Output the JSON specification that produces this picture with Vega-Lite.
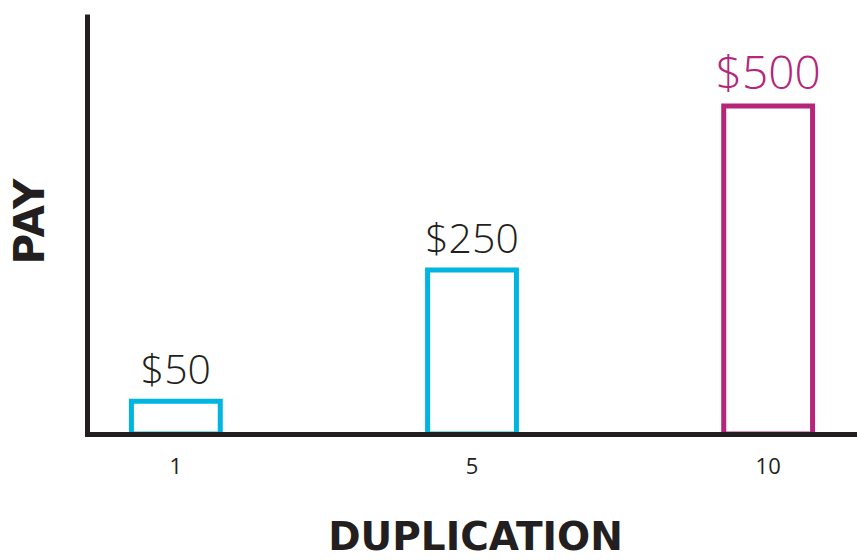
{
  "$schema": "https://vega.github.io/schema/vega-lite/v6.json",
  "width": 770,
  "height": 420,
  "autosize": {"type": "none"},
  "padding": {"left": 87, "top": 14, "right": 0, "bottom": 126},
  "background": "white",
  "config": {"view": {"stroke": null}},
  "data": {
    "values": [
      {"duplication": "1", "pay": 50, "label": "$50"},
      {"duplication": "5", "pay": 250, "label": "$250"},
      {"duplication": "10", "pay": 500, "label": "$500"}
    ]
  },
  "encoding": {
    "x": {
      "field": "duplication",
      "type": "ordinal",
      "sort": ["1", "5", "10"],
      "scale": {"paddingInner": 0.7, "paddingOuter": 0.15},
      "axis": {
        "title": "DUPLICATION",
        "labelAngle": 0,
        "ticks": false,
        "tickSize": 0,
        "labelPadding": 22,
        "labelFont": "Open Sans",
        "labelFontSize": 22,
        "labelFontWeight": 500,
        "labelColor": "#231f20",
        "domainColor": "#231f20",
        "domainWidth": 5,
        "domainCap": "square",
        "titleFont": "DejaVu Sans",
        "titleFontSize": 39,
        "titleFontWeight": "bold",
        "titleColor": "#231f20",
        "titleX": 388,
        "titleY": 115,
        "titleAlign": "center",
        "titleBaseline": "alphabetic",
        "zindex": 2
      }
    },
    "y": {
      "field": "pay",
      "type": "quantitative",
      "scale": {"domain": [0, 640]},
      "axis": {
        "title": "PAY",
        "labels": false,
        "ticks": false,
        "grid": false,
        "domainColor": "#231f20",
        "domainWidth": 5,
        "titleFont": "DejaVu Sans",
        "titleFontSize": 42,
        "titleFontWeight": "bold",
        "titleColor": "#231f20",
        "titleAngle": -90,
        "titleX": -44,
        "titleY": 207,
        "titleAlign": "center",
        "titleBaseline": "alphabetic",
        "zindex": 2
      }
    }
  },
  "layer": [
    {
      "mark": {"type": "bar", "fill": "white", "strokeWidth": 5},
      "encoding": {
        "stroke": {
          "condition": {"test": "datum.duplication == '10'", "value": "#b5267a"},
          "value": "#00b5e2"
        }
      }
    },
    {
      "mark": {"type": "text", "baseline": "alphabetic", "dy": -17, "font": "Open Sans", "fontWeight": 300},
      "encoding": {
        "text": {"field": "label"},
        "color": {
          "condition": {"test": "datum.duplication == '10'", "value": "#b5267a"},
          "value": "#231f20"
        },
        "size": {
          "condition": {"test": "datum.duplication == '10'", "value": 46},
          "value": 41
        }
      }
    }
  ]
}
